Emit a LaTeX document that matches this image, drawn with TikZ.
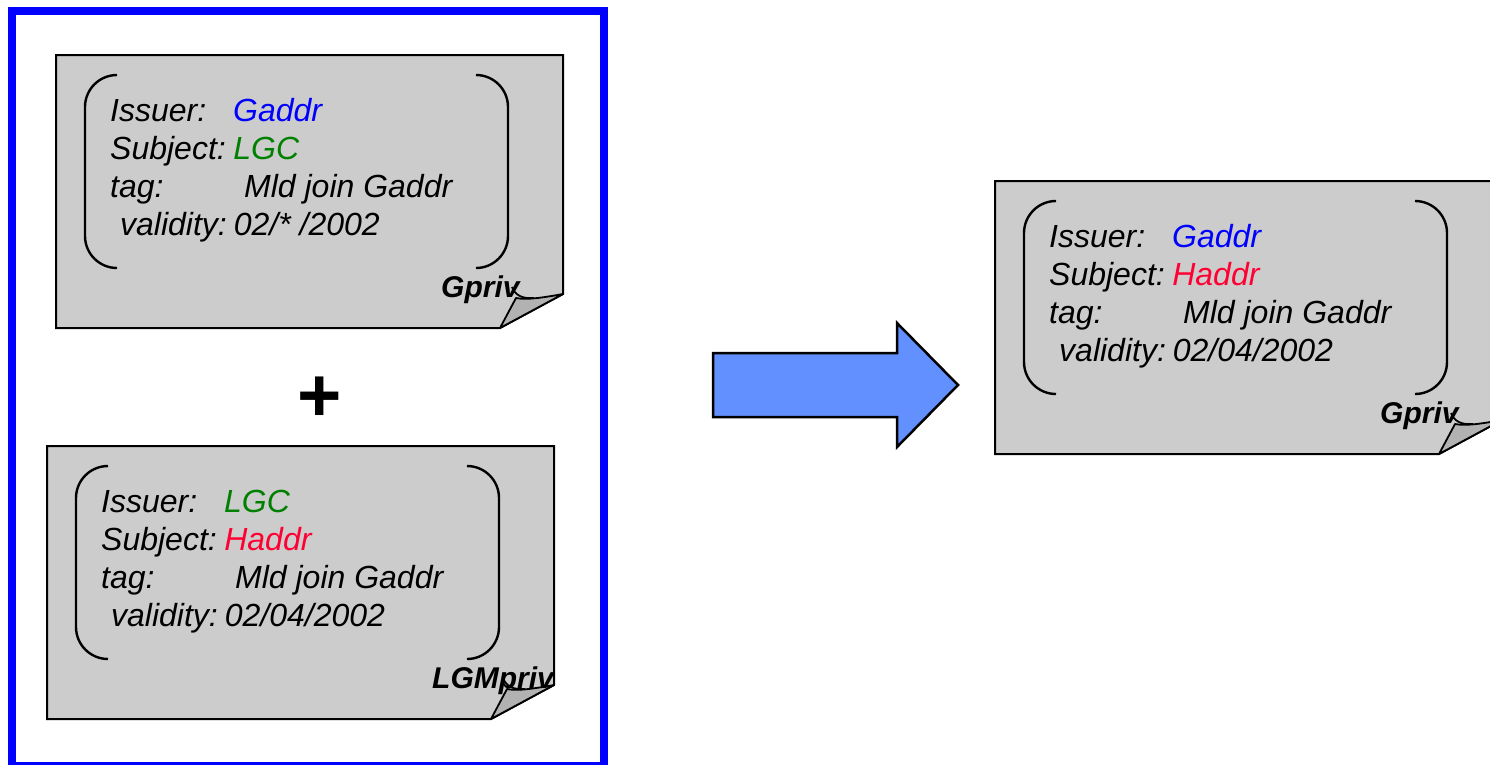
\documentclass[tikz,border=0pt]{standalone}
\usepackage{fontspec}
\setmainfont{Liberation Sans}
\definecolor{pagegray}{RGB}{204,204,204}
\definecolor{flapgray}{RGB}{178,178,178}
\definecolor{issblue}{RGB}{0,0,255}
\definecolor{lgcgreen}{RGB}{0,128,0}
\definecolor{hred}{RGB}{255,0,51}
\definecolor{arrowblue}{RGB}{98,145,255}

\tikzset{
  notepage/.style={fill=pagegray, draw=black, line width=2pt, line join=miter},
  flap/.style={fill=flapgray, draw=black, line width=1.8pt, line join=round},
  brace/.style={draw=black, line width=2.4pt, rounded corners=32pt},
  txt/.style={inner sep=0pt, anchor=base west, font=\itshape\fontsize{32}{38}\selectfont},
  keylabel/.style={inner sep=0pt, anchor=base west, font=\bfseries\itshape\fontsize{30}{34}\selectfont},
  frame/.style={draw=issblue, line width=8pt},
  bigarrow/.style={fill=arrowblue, draw=black, line width=2.5pt, line join=miter}
}

% A certificate sheet with a curled corner; #2,#3 = top left corner
\newcommand\certnote[9]{%
  \begin{scope}[shift={(#2,#3)}]
    \draw[notepage] (0,0) -- (507,0) -- (507,239) -- (444,273) -- (0,273) -- cycle;
    \draw[flap] (444,273) -- (460,243) .. controls (470,245) and (485,243) .. (507,239) -- cycle;
    \draw[black, line width=1.8pt] (456,232) .. controls (459,240) and (466,244) .. (478,243);
    \draw[brace] (61,20) -- (29,20) -- (29,213) -- (61,213);
    \draw[brace] (420,20) -- (452,20) -- (452,213) -- (420,213);
    \node[txt] (#1-iss)  at (54,66)  {Issuer:};
    \node[txt] (#1-issv) at (177,66) {\color{#4}#5};
    \node[txt] (#1-sub)  at (54,104) {Subject:\hspace{7.5pt}\color{#6}#7};
    \node[txt] (#1-tag)  at (54,142) {tag:};
    \node[txt] (#1-tagv) at (188,142) {Mld join Gaddr};
    \node[txt] (#1-val)  at (64,180) {validity:\hspace{7pt}#8};
    \node[keylabel] (#1-key) at (385,242) {#9};
  \end{scope}%
}

\begin{document}
\begin{tikzpicture}[x=1pt, y=-1pt]
  \useasboundingbox (0,0) rectangle (1490,764);
  \clip (0,0) rectangle (1490,764);

  % group frame around the two input certificates
  \draw[frame] (12,10.5) rectangle (604,765.5);

  \certnote{gcert}{56}{55}{issblue}{Gaddr}{lgcgreen}{LGC}{02/* /2002}{Gpriv}
  \node[inner sep=0pt, anchor=base, font=\bfseries\fontsize{76}{76}\selectfont] (plus) at (320,421) {+};
  \certnote{lcert}{47}{446}{lgcgreen}{LGC}{hred}{Haddr}{02/04/2002}{LGMpriv}

  % derivation arrow
  \draw[bigarrow] (713,353) -- (897,353) -- (897,323) -- (958,385) -- (897,447) -- (897,417) -- (713,417) -- cycle;

  \certnote{rcert}{995}{181}{issblue}{Gaddr}{hred}{Haddr}{02/04/2002}{Gpriv}
\end{tikzpicture}
\end{document}
